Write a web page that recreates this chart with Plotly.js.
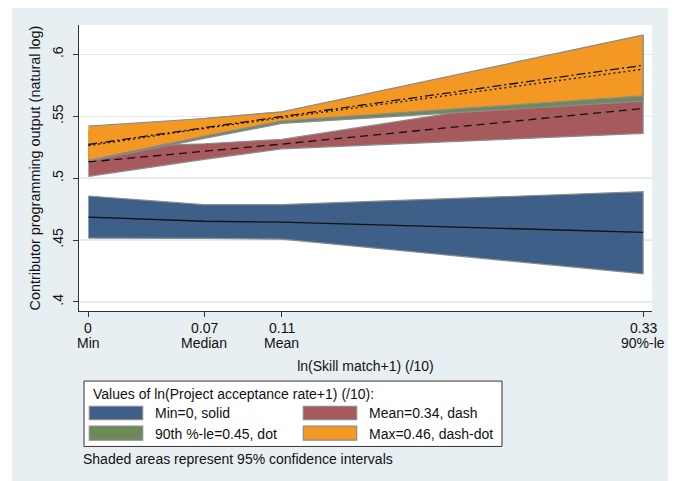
<!DOCTYPE html>
<html><head><meta charset="utf-8">
<script src="https://cdn.plot.ly/plotly-3.0.1.min.js"></script>
<style>
html,body{margin:0;padding:0;background:#fff;width:676px;height:481px;overflow:hidden}
#chart{position:absolute;left:12px;top:8px;width:656px;height:473px}
</style>
</head><body><div id="chart"></div>
<script>
// ---- data ----
const skillX = [0, 0.069, 0.115, 0.33];
const skillTickNum = ["0", "0.07", "0.11", "0.33"];
const skillTickName = ["Min", "Median", "Mean", "90%-le"];
const yTickVals = [0.4, 0.45, 0.5, 0.55, 0.6];
const yTickText = [".4", ".45", ".5", ".55", ".6"];
const seriesNames = ["Min=0, solid", "Mean=0.34, dash", "90th %-le=0.45, dot", "Max=0.46, dash-dot"];

const minFit = [0.4686, 0.4652, 0.4645, 0.4563];
const minLo  = [0.4516, 0.4513, 0.4507, 0.4228];
const minHi  = [0.4856, 0.4786, 0.4787, 0.4891];

const meanFit = [0.5131, 0.5215, 0.5275, 0.5563];
const meanLo  = [0.5015, 0.5152, 0.5237, 0.5361];
const meanHi  = [0.5247, 0.5278, 0.5313, 0.5765];

const p90Fit = [0.5262, 0.5402, 0.5488, 0.5880];
const p90Lo  = [0.5135, 0.5322, 0.5442, 0.5622];
const p90Hi  = [0.5389, 0.5482, 0.5534, 0.6138];

const maxFit = [0.5272, 0.5410, 0.5498, 0.5912];
const maxLo  = [0.5145, 0.5340, 0.5462, 0.5665];
const maxHi  = [0.5420, 0.5482, 0.5536, 0.6156];

// ---- styles ----
const FONT = "Liberation Sans, Arial, sans-serif";
const fills = ["#3e5f87", "#a65a5e", "#6e895a", "#f39823"];
const dashes = ["solid", "8px,5px", "2px,3px", "9px,3px,2px,3px"];
const bands = [[minLo, minHi, minFit], [meanLo, meanHi, meanFit], [p90Lo, p90Hi, p90Fit], [maxLo, maxHi, maxFit]];

const traces = [];
bands.forEach((b, i) => {
  traces.push({
    x: skillX.concat(skillX.slice().reverse()),
    y: b[1].concat(b[0].slice().reverse()),
    type: "scatter", mode: "lines", fill: "toself",
    fillcolor: fills[i], line: {color: "#8c8c8c", width: 1.2},
    hoverinfo: "skip", showlegend: false, name: seriesNames[i]
  });
});
bands.forEach((b, i) => {
  traces.push({
    x: skillX, y: b[2], type: "scatter", mode: "lines",
    line: {color: "#111", width: 1.3, dash: dashes[i]},
    showlegend: false, name: seriesNames[i]
  });
});

// page px -> paper coords
const W = 656, H = 473, ML = 67, MR = 16, MT = 17, MB = 170.3;
const PW = W - ML - MR, PH = H - MT - MB;
const px = p => (p - 12 - ML) / PW;
const py = p => (H - MB - (p - 8)) / PH;

const annotations = [];
skillX.forEach((v, i) => {
  annotations.push({x: v, xref: "x", y: py(327.3), yref: "paper", text: skillTickNum[i],
    showarrow: false, xanchor: "center", yanchor: "middle", font: {family: FONT, size: 14, color: "#111"}});
  annotations.push({x: v, xref: "x", y: py(342.5), yref: "paper", text: skillTickName[i],
    showarrow: false, xanchor: "center", yanchor: "middle", font: {family: FONT, size: 14, color: "#111"}});
});

const shapes = [];
// legend box
shapes.push({type: "rect", xref: "paper", yref: "paper", x0: px(84), x1: px(502), y0: py(380.7), y1: py(446),
  fillcolor: "#fff", line: {color: "#333", width: 1}});
annotations.push({x: px(91), y: py(393.3), xref: "paper", yref: "paper", xanchor: "left", yanchor: "middle",
  text: "Values of ln(Project acceptance rate+1) (/10):", showarrow: false, font: {family: FONT, size: 14, color: "#111"}});
const swX = [89.3, 303.3], swY = [[406, 419.3], [425.7, 439.7]], lbX = [152.7, 366.7], lbY = [412.7, 433.3];
seriesNames.forEach((n, i) => {
  const col = i % 2, row = Math.floor(i / 2);
  shapes.push({type: "rect", xref: "paper", yref: "paper", x0: px(swX[col]), x1: px(swX[col] + 53.4),
    y0: py(swY[row][1]), y1: py(swY[row][0]), fillcolor: fills[i], line: {color: "#8c8c8c", width: 1.2}});
  annotations.push({x: px(lbX[col]), y: py(lbY[row]), xref: "paper", yref: "paper", xanchor: "left", yanchor: "middle",
    text: n, showarrow: false, font: {family: FONT, size: 14, color: "#111"}});
});
annotations.push({x: px(81), y: py(459), xref: "paper", yref: "paper", xanchor: "left", yanchor: "middle",
  text: "Shaded areas represent 95% confidence intervals", showarrow: false, font: {family: FONT, size: 14, color: "#111"}});

const layout = {
  width: W, height: H,
  margin: {l: ML, r: MR, t: MT, b: MB, pad: 0},
  paper_bgcolor: "#e8eff2", plot_bgcolor: "#ffffff",
  showlegend: false,
  font: {family: FONT, size: 14, color: "#111"},
  xaxis: {
    range: [-0.0056, 0.3353], tickvals: skillX, showticklabels: false,
    ticks: "outside", ticklen: 5, tickcolor: "#333", tickwidth: 1,
    showline: true, linecolor: "#333", linewidth: 1, showgrid: false, zeroline: false,
    title: {text: "ln(Skill match+1) (/10)", font: {family: FONT, size: 14, color: "#111"}, standoff: 45}
  },
  yaxis: {
    range: [0.39272, 0.62371], tickvals: yTickVals, ticktext: yTickText, tickangle: -90,
    ticks: "outside", ticklen: 5, tickcolor: "#333", tickwidth: 1, ticklabelstandoff: 4,
    tickfont: {family: FONT, size: 14, color: "#111"},
    showline: true, linecolor: "#333", linewidth: 1, showgrid: true, gridcolor: "#e4ecef", gridwidth: 1.5, zeroline: false,
    title: {text: "Contributor programming output (natural log)", font: {family: FONT, size: 14.4, color: "#111"}, standoff: 6}
  },
  shapes: shapes, annotations: annotations
};

Plotly.newPlot("chart", traces, layout, {staticPlot: true, displayModeBar: false});
</script>
</body></html>
